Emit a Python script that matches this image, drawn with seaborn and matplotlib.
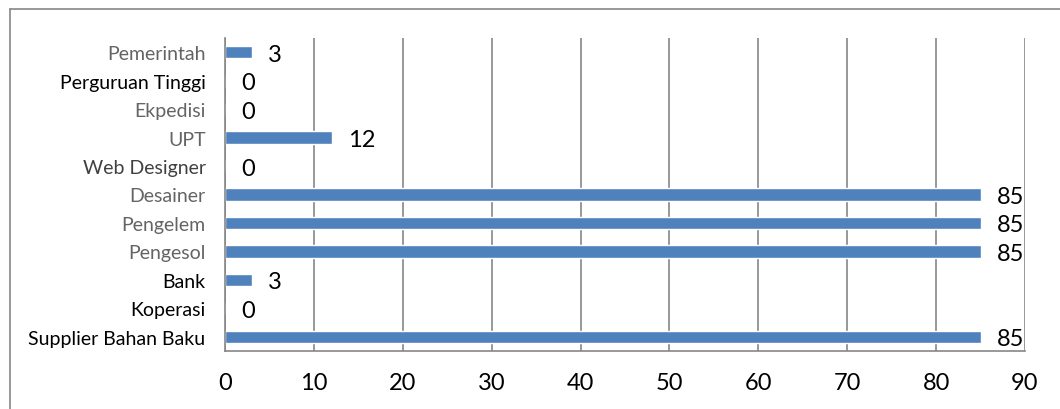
import numpy as np
import pandas as pd
import matplotlib
matplotlib.use("Agg")
import matplotlib.pyplot as plt
import seaborn as sns
from matplotlib.lines import Line2D

# Data (top to bottom, as in the chart)
kategori = ['Pemerintah', 'Perguruan Tinggi', 'Ekpedisi', 'UPT', 'Web Designer',
            'Desainer', 'Pengelem', 'Pengesol', 'Bank', 'Koperasi',
            'Supplier Bahan Baku']
nilai = [3, 0, 0, 12, 0, 85, 85, 85, 3, 0, 85]
x_ticks = [0, 10, 20, 30, 40, 50, 60, 70, 80, 90]
label_warna = ['#646464', '#000000', '#646464', '#646464', '#404040',
               '#646464', '#646464', '#646464', '#000000', '#000000', '#000000']

df = pd.DataFrame({'kategori': kategori, 'nilai': nilai})

sns.set_style('white')
plt.rcParams['font.family'] = ['Lato', 'DejaVu Sans']

fig = plt.figure(figsize=(10.6, 4.1), dpi=100)
ax = fig.add_axes([225 / 1060, 58 / 410, 800 / 1060, 313 / 410])

sns.barplot(data=df, x='nilai', y='kategori', orient='h', color='#4F81BD',
            saturation=1, width=0.43, ax=ax, order=kategori)

grid_col = '#868686'
ax.set_xlim(0, 90)
ax.set_ylim(len(kategori) - 0.5, -0.5)
ax.set_xticks(x_ticks)
ax.set_xticklabels([str(t) for t in x_ticks], fontsize=17, color='black')
ax.xaxis.grid(True, color=grid_col, linewidth=1.2)
ax.set_axisbelow(True)
ax.set_xlabel('')
ax.set_ylabel('')

# y ticks: labels at centres, tick marks at category boundaries
ax.set_yticks(range(len(kategori)))
ax.set_yticklabels(kategori, fontsize=14)
for lbl, c in zip(ax.get_yticklabels(), label_warna):
    lbl.set_color(c)
ax.tick_params(axis='y', length=0, pad=14)
ax.set_yticks(np.arange(-0.5, len(kategori), 1), minor=True)
ax.tick_params(axis='y', which='minor', direction='out', length=5,
               color=grid_col, width=1.2)
ax.tick_params(axis='x', direction='out', length=8, color=grid_col,
               width=1.2, pad=7)

for s in ['top', 'right']:
    ax.spines[s].set_visible(False)
for s in ['left', 'bottom']:
    ax.spines[s].set_color(grid_col)
    ax.spines[s].set_linewidth(1.2)

# data labels
for i, v in enumerate(nilai):
    ax.annotate(str(v), (v, i), xytext=(16, -2), textcoords='offset pixels',
                ha='left', va='center', fontsize=17, color='black')

# outer frame (top and left edges)
fig.add_artist(Line2D([10 / 1060, 1.0], [1 - 10 / 410, 1 - 10 / 410],
                      transform=fig.transFigure, color=grid_col, linewidth=1.2))
fig.add_artist(Line2D([10 / 1060, 10 / 1060], [0, 1 - 10 / 410],
                      transform=fig.transFigure, color=grid_col, linewidth=1.2))

fig.savefig('out.png', dpi=100, facecolor='white')
